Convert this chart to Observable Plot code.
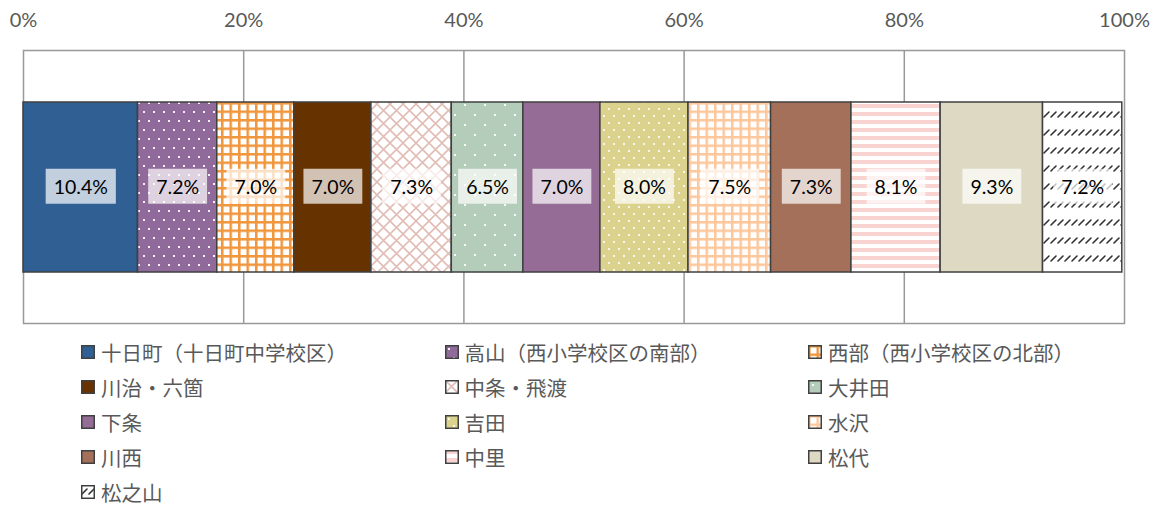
<!DOCTYPE html>
<html><head><meta charset="utf-8">
<script src="https://cdn.jsdelivr.net/npm/d3@7"></script>
<script src="https://cdn.jsdelivr.net/npm/@observablehq/plot@0.6"></script>
<style>
body{margin:0;background:#fff;}
#wrap{position:relative;width:1157px;height:506px;}
.lg{position:absolute;display:flex;align-items:center;height:36px;font-family:"Noto Sans CJK JP";font-size:20.5px;color:#595959;white-space:nowrap;}
.lg span{display:inline-block;line-height:20px;height:20px;}
.lg svg{margin-right:6px;}
</style>
</head><body>
<svg width="0" height="0" style="position:absolute">
<defs>
<pattern id="p-takayama" patternUnits="userSpaceOnUse" width="10" height="18">
<rect width="10" height="18" fill="#8f6a9a"/>
<rect x="3" y="3" width="2" height="2" fill="#fff" opacity="0.9"/>
<rect x="8" y="12" width="2" height="2" fill="#fff" opacity="0.9"/>
</pattern>
<pattern id="p-seibu" patternUnits="userSpaceOnUse" width="8.5" height="8.5">
<rect width="8.5" height="8.5" fill="#fff"/>
<rect x="0" y="0" width="2.5" height="8.5" fill="#f0963c"/>
<rect x="0" y="0" width="8.5" height="2.5" fill="#f0963c"/>
</pattern>
<pattern id="p-nakajo" patternUnits="userSpaceOnUse" width="13" height="13">
<rect width="13" height="13" fill="#fff"/>
<path d="M0,0L13,13M13,0L0,13" stroke="#e2bdb6" stroke-width="1.6"/>
</pattern>
<pattern id="p-oida" patternUnits="userSpaceOnUse" width="20" height="20">
<rect width="20" height="20" fill="#b4ccba"/>
<rect x="4" y="4" width="2" height="2" fill="#fff" opacity="0.9"/>
<rect x="14" y="14" width="2" height="2" fill="#fff" opacity="0.9"/>
</pattern>
<pattern id="p-yoshida" patternUnits="userSpaceOnUse" width="10" height="14">
<rect width="10" height="14" fill="#dbd28e"/>
<rect x="3" y="3" width="2" height="2" fill="#fff" opacity="0.8"/>
<rect x="8" y="10" width="2" height="2" fill="#fff" opacity="0.8"/>
</pattern>
<pattern id="p-mizusawa" patternUnits="userSpaceOnUse" width="8.5" height="8.5">
<rect width="8.5" height="8.5" fill="#fff"/>
<rect x="0" y="0" width="2.5" height="8.5" fill="#fdc79b"/>
<rect x="0" y="0" width="8.5" height="2.5" fill="#fdc79b"/>
</pattern>
<pattern id="p-nakasato" patternUnits="userSpaceOnUse" width="8" height="8">
<rect width="8" height="8" fill="#fff"/>
<rect x="0" y="0" width="8" height="4" fill="#f8d3cf"/>
</pattern>
<pattern id="p-matsunoyama" patternUnits="userSpaceOnUse" width="7" height="18">
<rect width="7" height="18" fill="#fff"/>
<path d="M1,9L6,4" stroke="#333" stroke-width="1.6" stroke-linecap="round"/>
</pattern>
</defs>
</svg>
<div id="wrap"></div>
<script>
const names = ["十日町（十日町中学校区）","高山（西小学校区の南部）","西部（西小学校区の北部）","川治・六箇","中条・飛渡","大井田","下条","吉田","水沢","川西","中里","松代","松之山"];
const values = [10.4, 7.2, 7.0, 7.0, 7.3, 6.5, 7.0, 8.0, 7.5, 7.3, 8.1, 9.3, 7.2];
const tickValues = [0, 20, 40, 60, 80, 100];
const gridValues = [20, 40, 60, 80];
const groupName = ["全体"];
const fills = ["#2f5f93","url(#p-takayama)","url(#p-seibu)","#663300","url(#p-nakajo)","url(#p-oida)","#946c96","url(#p-yoshida)","url(#p-mizusawa)","#a4705a","url(#p-nakasato)","#ddd9c3","url(#p-matsunoyama)"];

const data = names.map((n, i) => ({name: n, value: values[i], group: groupName[0]}));

const chart = Plot.plot({
  width: 1157, height: 330,
  marginLeft: 23, marginRight: 33, marginTop: 50, marginBottom: 7,
  x: {domain: [0, 100], ticks: tickValues, tickFormat: d => d + "%", axis: "top", label: null, tickSize: 0, tickPadding: 24},
  y: {domain: groupName, axis: null, padding: 0.2325},
  color: {type: "ordinal", domain: names, range: fills},
  style: {fontFamily: "Lato", fontSize: "20px", color: "#595959", background: "white"},
  marks: [
    Plot.frame({stroke: "#999", strokeWidth: 1.5}),
    Plot.ruleX(gridValues, {stroke: "#999", strokeWidth: 1.5}),
    Plot.barX(data, {x: "value", y: "group", fill: "name", stroke: "#404040", strokeWidth: 1.5}),
    Plot.text(data, Plot.stackX({x: "value", y: "group", text: d => d.value.toFixed(1) + "%", fill: "#000", fontSize: 19.5}))
  ]
});
document.getElementById("wrap").appendChild(chart);

// label background boxes
const tg = chart.querySelector('g[aria-label="text"]');
if (tg) {
  tg.querySelectorAll("text").forEach(t => {
    const bb = t.getBBox();
    const r = document.createElementNS("http://www.w3.org/2000/svg", "rect");
    const cy = bb.y + bb.height / 2;
    r.setAttribute("x", bb.x - 8);
    r.setAttribute("y", cy - 17.5);
    r.setAttribute("width", bb.width + 16);
    r.setAttribute("height", 35);
    r.setAttribute("fill", "#fff");
    r.setAttribute("fill-opacity", "0.7");
    const tr = t.getAttribute("transform");
    if (tr) r.setAttribute("transform", tr);
    t.parentNode.insertBefore(r, t);
  });
}

// legend
const wrap = document.getElementById("wrap");
names.forEach((n, i) => {
  const col = i % 3, row = Math.floor(i / 3);
  const div = document.createElement("div");
  div.className = "lg";
  div.style.left = (81 + col * 363.5) + "px";
  div.style.top = (333.5 + row * 35) + "px";
  div.innerHTML = `<svg width="14" height="14"><rect x="0.75" y="0.75" width="12.5" height="12.5" fill="${fills[i]}" stroke="#404040" stroke-width="1.5"/></svg><span>${n}</span>`;
  wrap.appendChild(div);
});
</script>
</body></html>
